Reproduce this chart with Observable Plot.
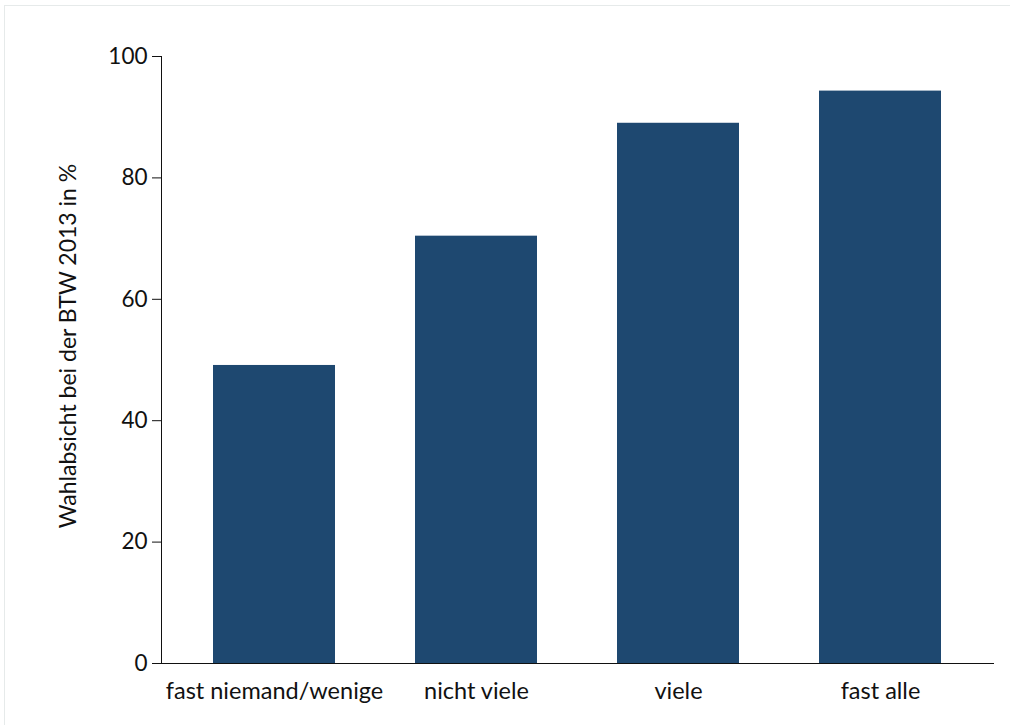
<!DOCTYPE html>
<html>
<head>
<meta charset="utf-8">
<script src="https://cdn.jsdelivr.net/npm/d3@7"></script>
<script src="https://cdn.jsdelivr.net/npm/@observablehq/plot@0.6"></script>
<style>
  html, body { margin: 0; padding: 0; background: #fff; }
  #wrap { position: relative; width: 1010px; height: 725px; }
  #border { position: absolute; left: 4px; top: 5px; width: 1010px; height: 725px; border-left: 1px solid #e6eaea; border-top: 1px solid #e6eaea; box-sizing: border-box; }
  #chart { position: absolute; left: 0; top: 0; }
</style>
</head>
<body>
<div id="wrap"><div id="border"></div><div id="chart"></div></div>
<script>
const categories = ["fast niemand/wenige", "nicht viele", "viele", "fast alle"];
const values = [49.1, 70.4, 89.0, 94.3];
const yTicks = [0, 20, 40, 60, 80, 100];
const yLabel = "Wahlabsicht bei der BTW 2013 in %";

const data = categories.map((c, i) => ({category: c, value: values[i]}));

const chart = Plot.plot({
  width: 1010,
  height: 725,
  marginLeft: 161,
  marginRight: 17,
  marginTop: 56,
  marginBottom: 62,
  style: {fontFamily: "Lato, sans-serif", fontSize: "23px", color: "#111", background: "transparent"},
  x: {domain: categories, paddingInner: 0.398, paddingOuter: 0.25, label: null},
  y: {domain: [0, 100], label: null},
  marks: [
    Plot.barY(data, {x: "category", y: "value", fill: "#1e4870"}),
    Plot.axisX({tickSize: 0, tickPadding: 19, fontSize: 23.5, label: null}),
    Plot.axisY({ticks: yTicks, tickSize: 9, tickPadding: 5, fontSize: 22.5, label: null, stroke: "#111"}),
    Plot.frame({anchor: "left", stroke: "#111"}),
    Plot.frame({anchor: "bottom", stroke: "#111"}),
    Plot.text([yLabel], {frameAnchor: "left", dx: -93, dy: -14, rotate: -90, fontSize: 23, fill: "#111", textAnchor: "middle"})
  ]
});
document.getElementById("chart").appendChild(chart);
</script>
</body>
</html>
